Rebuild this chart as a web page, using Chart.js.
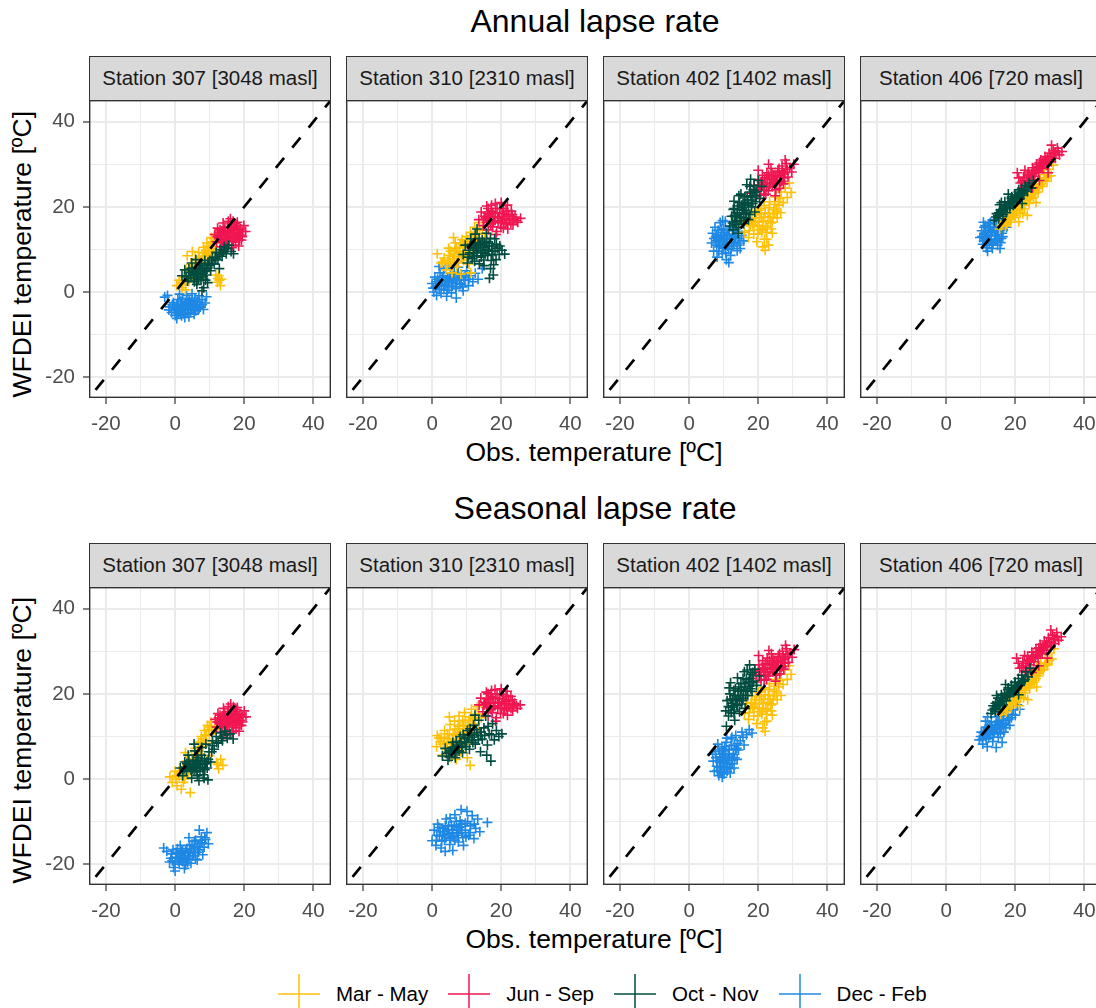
<!DOCTYPE html>
<html>
<head>
<meta charset="utf-8">
<title>Lapse rate</title>
<script src="https://cdn.jsdelivr.net/npm/chart.js@4.4.1/dist/chart.umd.min.js"></script>
<style>
  body { margin: 0; background: #fff; }
  #page { position: relative; width: 1096px; height: 1008px; overflow: hidden; font-family: 'Liberation Sans', Arial, sans-serif; }
  .title { position: absolute; left: 0; width: 1190px; text-align: center; font-size: 32px; line-height: 1; color: #000; white-space: nowrap; }
  .xtitle { position: absolute; left: 0; width: 1188px; text-align: center; font-size: 26.5px; line-height: 1; color: #000; white-space: nowrap; }
  .ytitle { position: absolute; width: 320px; height: 26.5px; text-align: center; font-size: 26.5px; line-height: 1; color: #000; transform: rotate(-90deg); white-space: nowrap; }
  .strip { position: absolute; box-sizing: border-box; background: #D9D9D9; border: 1.3px solid #333; color: #1A1A1A; font-size: 20.5px; text-align: center; white-space: nowrap; }
  canvas { position: absolute; }
  #legend { position: absolute; left: 278px; top: 974px; height: 40px; display: flex; align-items: center; font-size: 20.5px; color: #000; white-space: nowrap; }
  .item { display: flex; align-items: center; margin-right: 20px; }
  .item svg { display: block; margin-right: 16px; }
</style>
</head>
<body>
<div id="page"></div>
<script>
// facets, seasons and axis ticks
var stationNames = ['Station 307 [3048 masl]', 'Station 310 [2310 masl]', 'Station 402 [1402 masl]', 'Station 406 [720 masl]'];
var seasonNames = ['Mar - May', 'Jun - Sep', 'Oct - Nov', 'Dec - Feb'];
var seasonColors = ['#FFC107', '#F01651', '#004D40', '#1E88E5'];
var rowTitles = ['Annual lapse rate', 'Seasonal lapse rate'];
var axisRange = [-24.9, 45.1];
var axisTicks = [-20, -10, 0, 10, 20, 30, 40];
var oneToOne = [-23, 45];

// [obs, WFDEI] pairs, annual lapse rate
var a307mam = [[0.5,1.5],[1.2,2.8],[2,1],[2.5,3.5],[3.5,8.5],[3.2,5],[4,2.5],[4.6,6.5],[5.2,4],[5.8,7.8],[6.3,5.5],[6.8,9.3],[7.2,3.5],[7.6,7],[8.2,10.5],[8.8,8.5],[9.2,11.5],[9.6,6.8],[10,9.7],[10.5,12.8],[11,10.8],[11.4,13.5],[11.8,4],[12.2,2.3],[12.6,3.8],[13.1,1.5],[13.4,3],[10.8,7.5],[3,0.5],[5,9.5],[12,12],[9,4.8],
  [1.8,2.2],[3.8,4],[4.4,3.2],[5.5,5.8],[6,6.8],[6.6,4.6],[7,8],[7.9,6],[8.4,9.2],[9.3,8.6],[9.8,10.8],[10.3,9],[11.2,11.8],[11.6,9.6],[12.4,3.2],[6.2,3],[8.6,7.6],[10.4,11.6],
  [2.2,1.8],[3,2.6],[4.2,4.8],[5.2,5],[6.4,7.4],[7.3,6.2],[8,8.4],[8.9,9.8],[9.6,9.2],[10.6,10.2],[11.1,12.6],[12.8,2.8]];
var a307jjas = [[11.5,13.5],[12,11.8],[12.3,15],[12.8,12.6],[13.2,10.6],[13.5,14.3],[13.9,16.2],[14.2,12],[14.6,13.6],[15,11],[15.3,15.3],[15.7,12.8],[16.1,14.5],[16.4,10.4],[16.8,16.6],[17.1,13.2],[17.5,11.7],[17.8,15],[18.2,13.8],[18.6,12.2],[19,14.8],[19.4,13],[19.9,15.6],[20.4,14.2],[14,9.8],[16,17.2],[13,13.2],[15.5,14],[17.5,16],[18.4,10.8],
  [12.6,14],[13.4,12.4],[13.8,13.8],[14.4,15],[14.8,12.6],[15.2,13.8],[15.6,11.8],[16,13.2],[16.3,15.8],[16.6,12.2],[17,14.4],[17.3,12.6],[17.7,13.8],[18,16.4],[18.8,13.4],[19.6,14.2],[14.6,11],[16.8,11],
  [12.2,13],[13,14.6],[13.6,11.6],[14.2,14.4],[15.1,12.2],[15.8,15],[16.5,13.8],[17.2,15.4],[17.9,12.8],[18.5,14.6],[19.2,12.2],[15.4,16.6]];
var a307on = [[2,3.8],[2.8,5.2],[3.6,2.6],[4.3,4.6],[4.8,6.8],[5.4,3.2],[5.9,5.5],[6.3,1.8],[6.7,4.3],[7.1,6.2],[7.5,3],[7.9,5],[8.3,1],[8.6,7.4],[9,4],[9.4,2.2],[9.8,6.3],[10.3,5],[10.8,8],[11.3,6.6],[11.9,9.3],[12.4,7.5],[13,10],[13.6,8.4],[14.2,10.6],[14.8,9],[15.5,11],[16.2,9.5],[16.9,9],[7.8,0.3],[6,7.6],[12.8,5.5],
  [3.2,3.6],[4,5.4],[4.6,3.8],[5.1,4.8],[5.6,2.4],[6.1,4.9],[6.5,3.6],[6.9,5.4],[7.3,4.2],[7.7,6.6],[8.1,3.6],[8.5,5.6],[8.8,2.8],[9.2,5.4],[10,7.4],[11.6,8.2],[12.9,8.8],[14,9.6],[15.2,10.2],
  [3.9,3.2],[4.9,5.6],[5.5,4.2],[6.2,2.6],[6.8,3],[7.4,5.6],[8,4.4],[8.7,4.8],[9.5,6.8],[10.6,6.6],[11.8,7.8],[13.4,9.2]];
var a307djf = [[-3,-1.2],[-2.2,-0.8],[-1.5,-3.5],[-1,-4.8],[-0.5,-2.5],[0,-5.5],[0.3,-3.8],[0.8,-1.8],[1,-5],[1.3,-0.5],[1.6,-3],[2,-4.3],[2.2,-1.5],[2.6,-5.2],[3,-2.6],[3.3,-0.8],[3.8,-3.9],[4.1,-1.9],[4.5,-4.8],[4.9,-0.4],[5.2,-3],[5.7,-1.4],[6,-4.4],[6.4,-2.3],[6.9,-0.9],[7.3,-3.5],[7.8,-1.8],[8.2,-4.1],[8.7,-2.6],[9.1,-1.1],[0.5,-6.2],[-1.8,-4.2],[2.8,-6],[5.5,-5.2],
  [-0.8,-3],[-0.2,-4.2],[0.6,-2.9],[1.2,-4.1],[1.7,-2.2],[2.4,-3.4],[2.9,-4.4],[3.4,-1.6],[3.6,-5],[4.3,-2.8],[4.8,-3.8],[5,-1.9],[5.9,-3.4],[6.6,-4],[7.1,-2.4],[7.8,-3],[1.9,-5.6],[4,-5.8],
  [-0.3,-3.4],[0.4,-4.8],[1,-3.5],[1.5,-4.6],[2.1,-2.9],[2.7,-4.1],[3.2,-3.2],[3.9,-2.4],[4.6,-3.3],[5.4,-4.2],[6.2,-2.9],[7,-3.9]];

var a310mam = [[1.5,9],[2.6,6.8],[3.5,8],[4,5.2],[4.8,10.3],[5.2,7],[5.8,4.5],[6.2,9],[6.7,11.5],[7,6],[7.5,8.3],[7.9,10.5],[8.3,4.2],[8.7,12.3],[9.1,7.4],[9.5,9.6],[9.9,13],[10.3,11.2],[10.7,6.6],[11.1,14],[11.5,9.4],[11.9,12],[12.3,15.2],[12.7,10.5],[13.2,13.6],[13.6,16.3],[14.1,11.6],[14.6,14.6],[15.2,12.5],[16,13.8],[11.2,4.5],[6.2,12.8],
  [4.4,6.6],[5,8.6],[5.6,6],[6,7.8],[6.6,9.8],[7.2,7.2],[7.7,9.4],[8.1,11.4],[8.6,8],[9.2,10.6],[9.7,12],[10.4,8.6],[10.9,12.8],[11.6,11],[12.2,13.4],[12.9,12],[13.8,14.6],[3,7],
  [4.6,7.4],[5.4,9.6],[6.4,8.4],[7,10.2],[7.4,6.8],[8,9],[8.9,11.2],[9.4,8.6],[10,11.8],[10.8,10.4],[11.4,13.2],[12.5,12.8]];
var a310jjas = [[13.5,17],[14.2,18.8],[14.8,15.6],[15.3,17.8],[15.8,20.2],[16.3,14.6],[16.7,16.8],[17.1,19],[17.5,15.3],[17.9,17.6],[18.3,20.8],[18.7,14.2],[19.1,16.4],[19.5,18.5],[19.9,15.2],[20.3,17.2],[20.7,19.6],[21.1,16],[21.5,18.2],[21.9,14.8],[22.4,17],[22.9,19],[23.4,15.8],[24,17.6],[24.8,16.4],[25.6,17.3],[18.5,13.5],[20,21],[16,18.5],[21.8,20.4],
  [15,17],[15.8,16.4],[16.4,18.2],[17,16],[17.6,18.6],[18.2,16.8],[18.8,19.6],[19.2,17.4],[19.8,16.4],[20.4,18.4],[21,17.2],[21.6,16.4],[22.2,18.2],[22.8,16.2],[23.2,18.2],[24.4,16.8],[20.6,15],[17.2,20.4],
  [15.5,17.4],[16.2,19.6],[16.9,17.6],[17.7,16.6],[18.4,18.6],[19,17.6],[19.6,19.6],[20,16.2],[20.8,17.8],[21.4,19],[22,17.8],[23.6,17]];
var a310on = [[9,8.8],[9.6,11],[10.2,6.8],[10.7,9.8],[11.2,12.5],[11.6,7.8],[12.1,10.4],[12.5,13.6],[12.9,8.5],[13.3,11.3],[13.7,6.6],[14.1,9.4],[14.5,12.2],[14.9,7.5],[15.3,10.5],[15.7,13.8],[16.1,8.6],[16.5,11.4],[16.9,5.5],[17.3,9.6],[17.7,4],[18.1,12.5],[18.5,7.6],[18.9,10.3],[19.4,8.8],[20.2,9.8],[21,8.9],[16.6,3.2],[13,14.8],[17.8,6.4],
  [10.4,8.2],[11,10.8],[11.9,9],[12.4,11.6],[13,9.8],[13.6,12.6],[14.2,8.2],[14.8,10.8],[15.4,9],[15.8,11.8],[16.4,9.8],[16.9,12.6],[17.4,10.8],[18.2,9.6],[19.6,10.8],[17.1,7.4],[15,6.2],[12.3,7.2],
  [10.9,9.2],[11.5,11.2],[12.2,8.4],[12.7,10.2],[13.4,10.4],[14,11],[14.6,9.2],[15.1,11.6],[15.9,10],[16.6,10.8],[17.6,8.8],[18.6,11.2]];
var a310djf = [[0,2],[0.5,0],[0.8,3.5],[1.3,-0.8],[1.8,1.5],[2.3,4.5],[2.6,-0.3],[3,2.6],[3.4,0.6],[3.8,5.6],[4.2,-1],[4.5,3.5],[4.9,1.2],[5.3,6.3],[5.6,-0.2],[6,2.5],[6.4,4.6],[6.8,0.8],[7.2,3],[7.6,5.8],[8,1.8],[8.5,4],[9,0.3],[9.5,2.8],[10,5],[10.5,1.5],[11,3.8],[11.8,2.4],[12.5,4.4],[13.3,3],[14.5,5.5],[2,6],[7,-1.4],
  [1,1.2],[1.6,3],[2.2,0.6],[2.8,1.8],[3.3,3.8],[3.9,1.8],[4.4,0.4],[4.8,2.4],[5.4,4.4],[5.9,1.4],[6.3,3.4],[6.9,2],[7.4,4.2],[8.2,2.8],[8.8,1.2],[9.6,3.8],[10.6,3],[0.3,0.9],
  [1.2,2.4],[2,2.4],[2.9,3.4],[3.6,1.4],[4.2,2.8],[5,3.2],[5.6,2.2],[6.6,3],[7,1.2],[7.8,3.4],[8.4,2],[9.2,3.4]];

var a402mam = [[16,14],[16.6,16.5],[17.2,12.8],[17.7,15.6],[18.2,18.4],[18.7,13.6],[19.2,16.6],[19.6,11.8],[20,19.2],[20.5,14.6],[20.9,17.4],[21.3,10.6],[21.7,20.3],[22.1,15.5],[22.5,12.4],[22.9,18.4],[23.3,21.2],[23.7,16.2],[24.1,13.8],[24.5,19.4],[25,22.3],[25.5,17.4],[26,20.4],[26.6,23.5],[27.2,21],[27.8,24.4],[28.4,22.2],[29,25.6],[29.5,23.4],[22,9.8],[23,11],[26.5,18.6],
  [17.4,14.4],[18,16.8],[18.8,15.4],[19.4,18.2],[19.9,13.6],[20.3,16.4],[20.8,19.6],[21.2,15],[21.6,17.6],[22.3,14],[22.8,16.8],[23.2,19.8],[23.8,14.8],[24.3,17.6],[24.8,20.6],[25.3,19],[26.3,22],[21.8,12.4],
  [18.4,15.8],[19,17.4],[19.8,15.6],[20.4,18.2],[21,14],[21.4,16.6],[22,18.6],[22.6,15.2],[23.4,17.6],[24,16.4],[24.7,18.4],[25.8,21.2]];
var a402jjas = [[18,23.2],[18.8,25],[19.5,22.4],[20.1,26.4],[20.7,24],[21.2,27.4],[21.6,22.8],[22,25.6],[22.5,28],[22.9,23.8],[23.3,26.6],[23.7,29],[24.1,24.8],[24.5,27.4],[24.9,22.6],[25.3,25.8],[25.7,28.4],[26.1,24.3],[26.5,27],[26.9,29.6],[27.3,25.4],[27.7,28],[28.1,30.2],[28.6,27],[29.1,29.2],[29.7,28.2],[30.3,30],[27.8,31],[23,30],[20,28.6],
  [19.2,24],[20,25.2],[20.6,22.8],[21.4,25.2],[21.9,26.8],[22.4,24.6],[23,27.4],[23.5,25.4],[24,28],[24.6,26.2],[25.1,24],[25.5,27.2],[26,29],[26.4,25.8],[27,28.4],[27.6,26.8],[28.4,28.8],[22.2,23],
  [20.4,24.6],[21,25.8],[21.8,24],[22.6,26.4],[23.2,24.8],[23.8,26.6],[24.4,25.6],[25,27],[25.6,26.2],[26.2,27.4],[26.8,26],[27.4,27.6]];
var a402on = [[11.8,15.5],[12.3,17.8],[12.7,14.6],[13.1,19.6],[13.5,16.5],[13.9,18.6],[14.3,15.2],[14.6,21],[15,17.6],[15.4,19.8],[15.8,16.1],[16.1,22.4],[16.5,18.8],[16.9,21],[17.2,17],[17.6,23.5],[18,20],[18.4,22.3],[18.8,25],[19.2,21.2],[19.6,23.6],[20,26.2],[20.4,22],[13,21.3],[15,23],[16.7,25.2],[17.8,26.5],[14.2,13.8],[19,18.8],[21,24.8],
  [12.6,16.2],[13.2,18],[13.8,16.8],[14.1,20.2],[14.6,18.2],[15.2,16.8],[15.6,21],[16,19.2],[16.4,17.4],[16.8,22.4],[17.2,20.4],[17.6,18.2],[18.2,21.6],[18.6,24],[19.4,22.6],[14.4,22.6],[12.8,19.4],[17.6,24.8],
  [13.4,17.6],[14,19.4],[14.8,17.4],[15.2,20.4],[15.8,18.6],[16.2,20.8],[16.6,18.4],[17,21.6],[17.8,22.6],[18.4,20.8],[19,23.4],[13.6,15.8]];
var a402djf = [[6.5,11.5],[6.8,13.8],[7.1,9.6],[7.5,15.2],[7.8,12],[8.1,8.2],[8.4,14.5],[8.7,10.6],[9,16.3],[9.3,12.8],[9.6,9],[9.9,14],[10.2,11.2],[10.5,16.6],[10.8,7.6],[11.1,13.2],[11.4,10],[11.7,15.3],[12,8.6],[12.3,12.3],[12.6,14.7],[12.9,10.8],[13.2,16],[13.5,12.9],[13.9,9.7],[14.3,14.2],[14.7,11.5],[15.2,13.3],[15.8,12],[10,12.5],[8,11],[11.5,6.9],
  [7.2,12.6],[8,13.4],[8.6,9.6],[9,11.8],[9.4,14.8],[9.8,10.2],[10.2,13.4],[10.6,9.2],[11,11.6],[11.4,14.4],[11.8,12.4],[12.2,10.2],[12.6,13.4],[13,11.6],[13.6,14.8],[14.2,12.6],[14.8,10.2],[9.7,16.8],
  [7.8,13],[8.4,12.2],[9,13],[9.6,12],[10,14.8],[10.4,10.6],[10.8,12.6],[11.2,10.8],[11.6,13.6],[12.4,11.4],[13.2,13],[14,11]];

var a406mam = [[15.5,14.8],[16.4,16.2],[17.2,15.5],[17.9,17.6],[18.6,16.4],[19.3,18.8],[20,17.5],[20.7,20],[21.4,18.6],[22,21.6],[22.7,19.5],[23.3,22.8],[24,20.8],[24.6,23.8],[25.3,22.2],[25.9,25],[26.6,23.5],[27.2,26.4],[27.9,24.8],[28.5,27.6],[29.2,26],[29.8,28.8],[30.4,27.3],[23.5,18],[26,21],[21,16.5],[31,29.8],
  [16,15.6],[17,16.6],[18.2,17],[19,17.8],[19.8,19.2],[20.4,18.6],[21.2,19.8],[21.8,20.4],[22.4,21],[23,21.6],[23.8,22.4],[24.4,22],[25,23.6],[25.6,24],[26.3,24.4],[27.5,25.4],[28.8,26.8],[22.2,18.4],
  [17.6,16],[18.8,17.2],[19.6,18],[20.6,19.2],[21.6,19.8],[22.6,20.4],[23.6,21.6],[24.8,22.8],[25.8,23.2],[27,24.8],[28.2,26.2],[29.6,27.2]];
var a406jjas = [[20.6,28],[21.5,25.6],[22.4,27],[23.1,25],[23.8,28.2],[24.4,26.4],[25,29.2],[25.6,27.2],[26.2,30],[26.8,28],[27.4,31],[28,29],[28.6,31.8],[29.2,29.8],[29.8,32.6],[30.4,30.6],[31,33.2],[31.6,31.4],[32.2,33.8],[32.8,32.2],[27,26.2],[29.5,28],[25,24.5],[30.5,34.5],[33.5,33],
  [21,26.8],[22,25.8],[22.8,28.6],[23.4,26.8],[24,27.4],[24.8,27.8],[25.4,28.6],[26,28.4],[26.6,29.4],[27.2,29.6],[27.8,30.4],[28.3,30.4],[28.9,31],[29.6,31],[30.1,31.8],[31.2,32.4],[32.4,33],[23.6,24.6],
  [22.6,26.2],[23.6,27.6],[24.6,27],[25.3,28],[26.4,28.8],[27,30.4],[27.6,29.2],[28.6,30.6],[29.3,31.6],[30.6,31.8],[31.6,32.8],[24.2,25.8]];
var a406on = [[14,16.8],[14.6,18.4],[15.2,17.2],[15.8,19.3],[16.3,17.8],[16.9,20.2],[17.4,18.6],[17.9,21],[18.4,19.6],[18.9,22],[19.4,20.4],[19.9,22.8],[20.4,21.3],[20.9,23.5],[21.4,22],[21.9,24.3],[22.4,22.8],[22.9,25],[23.5,23.6],[24,25.6],[24.6,24.4],[25.2,26.2],[15.5,20.5],[18,23],[22,20.8],
  [14.4,17.6],[15,18],[15.6,18.4],[16.1,18.8],[16.6,19.2],[17.1,19.6],[17.7,19.8],[18.2,20.6],[18.7,21],[19.2,21.4],[19.7,21.8],[20.2,22.2],[20.7,22.4],[21.2,23],[21.7,23.2],[22.7,24],[23.8,24.8],[16,21],
  [15.3,18.6],[16.5,18.2],[17.5,20.2],[18.5,20.2],[19.5,21],[20.5,21.8],[21.5,22.6],[22.2,23.4],[23.2,24.2],[17,21.2],[19,22.4],[21,24]];
var a406djf = [[9.8,12.8],[10.3,14.4],[10.6,11.2],[11,13.6],[11.3,15.6],[11.6,10.4],[11.9,12.4],[12.2,14.8],[12.5,11.6],[12.8,16.3],[13.1,13.2],[13.4,10.2],[13.7,15.2],[14,12],[14.3,14],[14.6,16.8],[14.9,11],[15.2,13.5],[15.6,15.6],[16,12.6],[16.5,14.6],[17,16.5],[12,9.6],[15.6,10.2],[17.5,15.2],[10.8,16.4],
  [10.4,13],[10.9,12],[11.4,14],[11.8,11.4],[12.3,13.4],[12.6,15.4],[13,12.2],[13.3,14.2],[13.6,11.4],[14.1,13.2],[14.5,15.2],[14.8,12.4],[15.3,14.6],[15.8,11.6],[16.2,13.8],[16.8,15.4],[11,15.2],[13.8,17],
  [11.2,12.6],[11.7,13],[12.4,12.4],[12.9,14.4],[13.2,11],[13.9,14.6],[14.4,12.2],[14.6,14.2],[15.4,12.6],[15.9,14.8],[16.4,13],[12.2,16]];

// [obs, WFDEI] pairs, seasonal lapse rate
var s307mam = [[-1.5,0.5],[-0.8,-0.8],[0,1.8],[0.6,-1.6],[1.2,0.6],[1.8,-2.4],[2.3,2.8],[2.8,0],[3.4,4.2],[3.9,1.4],[4.4,-3.2],[4.8,5.6],[5.3,3],[5.8,7.2],[6.2,4.4],[6.7,8.6],[7.1,6],[7.6,10],[8,7.6],[8.5,11.4],[8.9,9],[9.4,12.6],[9.9,10.4],[10.4,13.4],[10.9,8.4],[11.4,11.6],[12,3.8],[12.6,2.4],[13.2,4.6],[13.8,3.2],[3,6.2],[10,5.4],
  [0.4,0.8],[1.6,1.8],[2.4,-0.8],[3.2,2.6],[3.6,1.2],[4.2,3.6],[4.6,2],[5.1,4.6],[5.6,5.6],[6,6.6],[6.5,5.8],[7,7.4],[7.4,8.6],[8.2,9.4],[8.7,10.4],[9.6,11.6],[10.6,11.6],[12.3,3.4],
  [0.2,0],[1,1.4],[2,0.6],[2.8,2],[3.8,2.4],[4.8,3.6],[5.4,4.6],[6.2,5.2],[6.9,6.6],[7.8,8.2],[9,10.2],[10,12.2]];
var s307jjas = [[11.6,14],[12,12.2],[12.4,15.4],[12.9,13],[13.3,11],[13.6,14.8],[14,16.6],[14.3,12.4],[14.7,14],[15.1,11.4],[15.4,15.8],[15.8,13.2],[16.2,15],[16.5,10.8],[16.9,17],[17.2,13.6],[17.6,12],[17.9,15.4],[18.3,14.2],[18.7,12.6],[19.1,15.2],[19.5,13.4],[20,16],[20.5,14.6],[14.1,10.2],[16.1,17.6],[13.1,13.6],[15.6,14.4],[17.6,16.4],[18.5,11.2],
  [12.6,14.4],[13.4,12.8],[13.8,14.2],[14.4,15.4],[14.8,13],[15.2,14.2],[15.6,12.2],[16,13.6],[16.3,16.2],[16.6,12.6],[17,14.8],[17.3,13],[17.7,14.2],[18,16.8],[18.8,13.8],[19.6,14.6],[14.6,11.4],[16.8,11.4],
  [12.2,13.4],[13,15],[13.6,12],[14.2,14.8],[15.1,12.6],[15.8,15.4],[16.5,14.2],[17.2,15.8],[17.9,13.2],[18.5,15],[19.2,12.6],[15.4,17]];
var s307on = [[1.5,2.6],[2.2,0.8],[2.8,4],[3.3,1.8],[3.8,5.6],[4.3,2.8],[4.8,0.2],[5.2,4.4],[5.7,6.6],[6.1,2],[6.5,5],[6.9,-0.4],[7.3,3.4],[7.7,7.4],[8.1,1],[8.5,4.8],[8.9,8.2],[9.3,2.6],[9.8,6.4],[10.3,4],[10.8,9],[11.3,7],[11.9,10],[12.5,8.4],[13.1,10.8],[13.7,9],[14.4,11.2],[15.1,9.6],[15.9,10.6],[16.8,9.4],[5.5,8.2],[9.5,-0.2],
  [2.6,2.4],[3.4,3.6],[4,4.2],[4.6,2.2],[5,3.4],[5.5,1.8],[6,3.6],[6.4,0.8],[6.8,4.2],[7.2,1.8],[7.6,5.6],[8,2.6],[8.4,0.2],[8.8,3.6],[9.6,4.6],[10.6,6.4],[12,8.6],[13.4,9.6],[14.8,10.4],
  [3,2.8],[3.8,3],[4.4,3.4],[5,2.4],[5.6,3],[6.2,4.4],[6.6,2.6],[7.2,2.8],[7.8,4.2],[8.6,2.2],[9.2,4],[10.8,7.8]];
var s307djf = [[-3.3,-16.2],[-2.4,-17],[-1.6,-19.5],[-1,-17.6],[-0.4,-20.8],[0.2,-18.4],[0.7,-16.4],[1.2,-20],[1.7,-18.8],[2.2,-16.8],[2.7,-21],[3.2,-19],[3.7,-17.3],[4.2,-15.6],[4.6,-19.8],[5.1,-18],[5.6,-16],[6,-14.4],[6.4,-19],[6.8,-17.2],[7.2,-15.2],[7.6,-13.6],[8,-17.8],[8.4,-16],[8.8,-14.2],[9.2,-12.6],[9.6,-15.2],[4,-13.8],[1.5,-15.6],[7,-12],[0,-21.6],
  [-1.2,-18.6],[-0.6,-16.6],[0,-19.6],[0.6,-17.6],[1.2,-18.6],[1.8,-17],[2.2,-19.4],[2.8,-18],[3.4,-16.4],[3.8,-18.6],[4.4,-17],[4.9,-15.4],[5.4,-17.4],[5.9,-18.8],[6.5,-15.8],[7.1,-16.6],[7.8,-15],[8.6,-13.8],[3,-20.2],[5.6,-14.6],
  [-0.8,-19.2],[0.3,-17.2],[0.9,-19.2],[1.6,-17.8],[2.4,-18.4],[3,-17],[3.6,-19.6],[4.2,-18.2],[4.8,-16.4],[5.8,-17.2],[6.6,-16.6],[7.6,-14.4]];

var s310mam = [[1.5,10.2],[1.3,7.6],[2.4,8.8],[3,5.6],[3.6,11.4],[4.1,7],[4.7,9.4],[5.2,12.8],[5.6,5],[6.1,10.6],[6.5,13.6],[6.9,8],[7.3,11.8],[7.8,14.8],[8.2,6.4],[8.6,9.6],[9,12.6],[9.4,15.6],[9.8,8.2],[10.2,11],[10.6,13.8],[11,3.2],[11.4,16.4],[11.8,10],[12.2,13],[12.6,15.2],[13.1,17],[13.6,12],[14.2,14.4],[7,4.6],[5,14.6],[10.2,5],
  [2,9.6],[3.2,8.2],[4.4,8.4],[5,10.6],[5.6,7.6],[6,9.4],[6.6,11.6],[7.2,9.2],[7.6,10.6],[8,12.4],[8.4,8.4],[9,11],[9.6,13.4],[10.4,12.2],[11,14.6],[11.6,12.6],[12.4,14.2],[13.4,15.2],
  [2.6,9.8],[3.6,9.6],[4.4,10.6],[5.4,8.6],[6.2,8.2],[6.8,10.2],[7.6,12.4],[8.2,10.4],[8.8,13.8],[9.8,11.8],[10.6,10.6],[11.8,14]];
var s310jjas = [[13.6,17.4],[14.1,19],[14.7,15.8],[15.2,18],[15.7,20.4],[16.2,14.8],[16.6,17],[17,19.4],[17.4,15.6],[17.8,17.8],[18.2,21],[18.6,14.4],[19,16.6],[19.4,18.8],[19.8,15.4],[20.2,17.6],[20.6,19.8],[21,16.2],[21.4,18.4],[21.8,15],[22.3,17.2],[22.8,19.4],[23.3,16],[23.9,17.8],[24.7,16.6],[25.5,17.4],[18.4,13.6],[20,21.2],[15.9,18.8],[21.7,20.6],
  [15,17.4],[15.8,16.8],[16.4,18.6],[17,16.4],[17.6,19],[18.2,17.2],[18.8,20],[19.2,17.8],[19.8,16.8],[20.4,18.8],[21,17.6],[21.6,16.8],[22.2,18.6],[22.8,16.6],[23.2,18.6],[24.4,17.2],[20.6,15.4],[17.2,20.8],
  [15.5,17.8],[16.2,20],[16.9,18],[17.7,17],[18.4,19],[19,18],[19.6,20],[20,16.6],[20.8,18.2],[21.4,19.4],[22,18.2],[23.6,17.4]];
var s310on = [[3,5.4],[3.8,7.2],[4.6,4.4],[5.3,6.6],[6,8.6],[6.7,5],[7.4,7.6],[8.1,10],[8.8,6.2],[9.5,8.8],[10.2,11.4],[10.8,7],[11.4,9.8],[12,12.6],[12.5,8.2],[13,10.8],[13.5,13.8],[14,6.4],[14.5,9.4],[15,12],[15.5,14.8],[16,8],[16.5,10.6],[17,4.2],[17.5,13],[18,9.2],[18.6,11.4],[19.3,10],[20.2,10.6],[15.8,5.6],[12.4,15],
  [4.2,6],[5,5.2],[5.8,7.4],[6.4,6.2],[7,8.8],[7.8,6.6],[8.4,8.4],[9,10.4],[9.8,7.6],[10.4,9.8],[11,11.8],[11.8,8.6],[12.2,10.4],[13.4,9.2],[14.2,11],[15.2,10.2],[16.2,12.4],[17.2,10.4],
  [4.8,6.2],[5.6,6.2],[6.2,7.4],[7.2,6.4],[7.8,8],[8.6,7.4],[9.4,9.6],[10,8.6],[10.8,10.2],[11.6,9.2],[12.8,11.6],[14,10.2]];
var s310djf = [[0,-14.5],[0.6,-12],[1.1,-15.6],[1.6,-10.6],[2.1,-13.4],[2.6,-16.2],[3.1,-11.6],[3.6,-14.4],[4.1,-9.4],[4.6,-12.8],[5.1,-15.4],[5.6,-10.8],[6.1,-13.6],[6.6,-8.4],[7.1,-11.8],[7.6,-14.8],[8.1,-9.8],[8.6,-12.6],[9.1,-15.6],[9.6,-10.4],[10.1,-7.6],[10.6,-13.2],[11.1,-11],[11.6,-8.6],[12.1,-14],[12.6,-11.6],[13.2,-9.4],[13.8,-12.4],[16,-10.2],[3.8,-17],[8.4,-7.2],[6,-16.8],
  [1.4,-13.2],[2,-11.4],[2.8,-14.6],[3.4,-12.4],[4,-13.8],[4.8,-11],[5.4,-14],[6,-12],[6.6,-14.4],[7,-10],[7.6,-12.8],[8.2,-11.2],[8.9,-13.8],[9.6,-12],[10.3,-10],[11,-12.6],[12.2,-10.6],[5.2,-9.2],
  [1.2,-14.4],[2.4,-12.4],[3,-13.2],[3.8,-11],[4.4,-12],[5,-13],[5.8,-12.6],[6.4,-11],[7.2,-13.2],[7.8,-11.4],[8.6,-10.6],[9.8,-13.6]];

var s402mam = [[16,15.4],[16.6,17.8],[17.2,14],[17.7,16.8],[18.2,19.6],[18.7,14.8],[19.2,17.8],[19.6,13],[20,20.4],[20.5,15.8],[20.9,18.6],[21.3,12],[21.7,21.4],[22.1,16.6],[22.5,13.6],[22.9,19.6],[23.3,22.4],[23.7,17.4],[24.1,15],[24.5,20.6],[25,23.4],[25.5,18.6],[26,21.6],[26.6,24.6],[27.2,22.2],[27.8,25.6],[28.4,23.4],[29,26.6],[29.5,24.6],[22,11.2],[26.6,19.6],[24,26],
  [17.4,15.6],[18,18],[18.8,16.6],[19.4,19.4],[19.9,14.8],[20.3,17.6],[20.8,20.8],[21.2,16.2],[21.6,18.8],[22.3,15.2],[22.8,18],[23.2,21],[23.8,16],[24.3,18.8],[24.8,21.8],[25.3,20.2],[26.3,23.2],[21.8,13.4],
  [18.4,17],[19,18.6],[19.8,16.6],[20.4,19.4],[21,15.2],[21.4,17.8],[22,19.8],[22.6,16.4],[23.4,18.8],[24,17.6],[24.7,19.6],[25.8,22.4]];
var s402jjas = [[18.2,23.6],[19,25.4],[19.6,22.8],[20.2,26.8],[20.8,24.4],[21.3,27.8],[21.7,23.2],[22.1,26],[22.6,28.4],[23,24.2],[23.4,27],[23.8,29.4],[24.2,25.2],[24.6,27.8],[25,23],[25.4,26.2],[25.8,28.8],[26.2,24.7],[26.6,27.4],[27,30],[27.4,25.8],[27.8,28.4],[28.2,30.6],[28.7,27.4],[29.2,29.6],[29.8,28.6],[30.4,30.4],[27.9,31.4],[23.1,30.2],[20.1,29],
  [19.4,24.4],[20.2,25.6],[20.8,23.2],[21.6,25.6],[22.1,27.2],[22.6,25],[23.2,27.8],[23.7,25.8],[24.2,28.4],[24.8,26.6],[25.3,24.4],[25.7,27.6],[26.2,29.4],[26.6,26.2],[27.2,28.8],[27.8,27.2],[28.6,29.2],[22.4,23.4],
  [20.6,25],[21.2,26.2],[22,24.4],[22.8,26.8],[23.4,25.2],[24,27],[24.6,26],[25.2,27.4],[25.8,26.6],[26.4,27.8],[27,26.4],[27.6,28]];
var s402on = [[10.6,16],[11,18.4],[11.4,14.8],[11.8,20],[12.2,16.8],[12.6,18.6],[13,15.4],[13.4,21.2],[13.8,17.4],[14.2,19.6],[14.6,15.8],[15,22.4],[15.4,18.4],[15.8,20.6],[16.2,16.6],[16.6,23.4],[17,19.6],[17.4,21.8],[17.8,24.6],[18.2,20.6],[18.6,23],[19,25.8],[19.5,22],[12,22.6],[14,23.8],[16,25.2],[17.5,26.8],[13.2,13.8],[20.3,24.2],[10.8,12.4],
  [11.4,17],[12,18.8],[12.6,17.2],[12.9,20.8],[13.4,18.8],[14,17.2],[14.4,21.6],[14.8,19.6],[15.2,17.6],[15.6,23.6],[16,21.6],[16.4,19.6],[17.2,22.8],[17.8,21.2],[18.4,25],[13,16.2],[11.6,21.4],[16.8,25.6],
  [12.4,17.8],[13,19.6],[13.8,18.4],[14.2,20.6],[14.6,18.6],[15.2,21],[15.6,19],[16.2,22.4],[16.8,20.8],[17.4,23.6],[18.2,22.6],[12.2,15.6]];
var s402djf = [[7,4.2],[7.3,1.8],[7.6,6.4],[8,3],[8.3,8.2],[8.6,0.8],[8.9,5.2],[9.2,2.6],[9.5,7.2],[9.8,4],[10.1,1.2],[10.4,6],[10.7,8.6],[11,2.8],[11.3,4.8],[11.6,7],[11.9,1.4],[12.2,9.4],[12.5,3.6],[12.8,5.8],[13.1,8],[13.5,10.2],[13.9,4.6],[14.3,6.8],[14.8,9],[15.3,11],[15.9,8],[16.6,10.4],[17.4,11.6],[18.2,10.8],[9.6,0.4],[6.8,5.8],
  [7.8,5],[8.2,2],[8.6,6.8],[9,3.8],[9.3,1.6],[9.6,5.8],[10,3],[10.3,7.6],[10.6,4.4],[11,1.8],[11.4,6],[11.8,3.4],[12.2,7.8],[12.6,5],[13,2.6],[13.4,6.8],[14,8.4],[12.4,9.8],[10.9,9.6],[15.6,9.8],
  [8.2,4.2],[8.8,2.8],[9.2,4.6],[9.9,6.6],[10.2,2.2],[10.5,5.2],[11.1,3.6],[11.6,5.4],[12,2.4],[12.4,4.4],[13.2,5],[13.8,7.2]];

var s406mam = [[15.8,15.2],[16.6,16.8],[17.4,15.8],[18.1,18.2],[18.8,16.8],[19.5,19.4],[20.2,18],[20.9,20.8],[21.6,19.2],[22.2,22.2],[22.9,20.2],[23.5,23.4],[24.2,21.4],[24.8,24.4],[25.5,22.8],[26.1,25.8],[26.8,24.2],[27.4,27.2],[28.1,25.6],[28.7,28.4],[29.4,26.8],[30,29.6],[30.6,28.2],[23.6,18.6],[26.2,21.6],[21.2,17.2],[31.2,30.6],
  [16.2,16],[17.1,16.8],[18.4,17.4],[19.1,18.2],[19.9,19.4],[20.6,19],[21.3,20.2],[21.9,20.8],[22.6,21.4],[23.2,22],[24,22.8],[24.6,22.4],[25.2,24],[25.8,24.4],[26.5,24.8],[27.7,25.8],[29,27.2],[22.4,19],
  [17.8,16.4],[19,17.6],[19.8,18.4],[20.8,19.6],[21.8,20.2],[22.8,20.8],[23.8,22],[25,23.2],[26,23.6],[27.2,25.2],[28.4,26.6],[29.8,27.8]];
var s406jjas = [[20.4,28.4],[21.3,26],[22.2,27.6],[22.9,25.4],[23.6,28.8],[24.2,26.8],[24.8,29.8],[25.4,27.6],[26,30.6],[26.6,28.4],[27.2,31.6],[27.8,29.4],[28.4,32.4],[29,30.2],[29.6,33.2],[30.2,31],[30.8,33.8],[31.4,31.8],[32,34.4],[32.6,32.6],[26.8,26.6],[29.3,28.4],[24.8,25],[30.3,35],[33.3,33.4],
  [20.9,27.2],[21.9,26.2],[22.7,29],[23.3,27.2],[23.9,27.8],[24.6,28.2],[25.2,29],[25.8,28.8],[26.4,29.8],[27,30],[27.6,30.8],[28.1,30.8],[28.7,31.4],[29.4,31.4],[29.9,32.2],[31,32.8],[32.2,33.4],[23.4,25],
  [22.4,26.6],[23.4,28],[24.4,27.4],[25.1,28.4],[26.2,29.2],[26.8,30.8],[27.4,29.6],[28.4,31],[29.1,32],[30.4,32.2],[31.4,33.2],[24,26.2]];
var s406on = [[13,15.4],[13.6,17.2],[14.2,15.8],[14.8,18],[15.3,16.4],[15.9,19],[16.4,17.4],[16.9,20],[17.4,18.4],[17.9,21],[18.4,19.4],[18.9,22],[19.4,20.4],[19.9,22.8],[20.4,21.2],[20.9,23.6],[21.4,22],[21.9,24.4],[22.5,23],[23.1,25.2],[23.7,24],[24.3,26],[14.6,19.6],[17.2,22.2],[21,19.8],
  [13.4,16.2],[14,16.6],[14.6,17],[15.1,17.4],[15.6,17.8],[16.1,18.2],[16.7,18.4],[17.2,19.2],[17.7,19.6],[18.2,20],[18.7,20.4],[19.2,20.8],[19.7,21],[20.2,21.6],[20.7,21.8],[21.7,22.6],[22.8,23.4],[15,19],
  [14.3,17.8],[15.5,17.6],[16.4,19.2],[17.4,19.6],[18.4,20.2],[19.4,21],[20.4,21.4],[21.2,22.2],[22.2,23],[16,19.8],[18,21.4],[20,22.6]];
var s406djf = [[9.6,9.2],[10.2,11],[10.6,8.2],[11,10.2],[11.5,12.2],[11.9,7.6],[12.3,9.6],[12.7,11.6],[13.1,13.4],[13.5,8.8],[13.9,10.8],[14.3,12.8],[14.7,14.6],[15.1,9.8],[15.5,11.8],[15.9,13.8],[16.3,15.6],[16.7,11],[17.1,13],[17.5,14.8],[17.9,16.6],[18.4,12.6],[18.9,14.4],[19.4,16.2],[20,15],[20.6,17.4],[21.3,16.4],[14.5,7.4],[16.2,8.6],[12,14.6],
  [10,10],[10.5,9.4],[11.2,11.2],[11.6,9.4],[12.1,10.6],[12.5,12.6],[12.9,10.4],[13.3,12.2],[13.7,9.8],[14.1,11.6],[14.5,13.4],[14.9,11],[15.3,12.8],[15.7,10.6],[16.1,12.4],[16.6,14.2],[17.3,12],[18.1,14],[19.1,15.2],[11.4,13.6],
  [10.8,10.8],[11.4,10],[12,12],[12.7,11],[13,12.6],[13.6,11.2],[14.2,12.4],[14.8,12.2],[15.2,13.6],[15.8,13],[16.5,12.8],[17.6,13.8]];

var annualPanels = [
  [a307mam, a307jjas, a307on, a307djf],
  [a310mam, a310jjas, a310on, a310djf],
  [a402mam, a402jjas, a402on, a402djf],
  [a406mam, a406jjas, a406on, a406djf]
];
var seasonalPanels = [
  [s307mam, s307jjas, s307on, s307djf],
  [s310mam, s310jjas, s310on, s310djf],
  [s402mam, s402jjas, s402on, s402djf],
  [s406mam, s406jjas, s406on, s406djf]
];

// layout
var FONT = "'Liberation Sans', Arial, sans-serif";
var panelLeft = [89, 346, 603, 860];
var panelW = 242, panelH = 298;
var stripH = 44;
var rowTop = [100, 587];     // top of plotting area for each row
var yAxisW = 60, xAxisH = 42;
// drawing order: line on top, then Oct-Nov, Jun-Sep, Mar-May, Dec-Feb underneath
var seasonOrder = [3, 2, 1, 4];

var page = document.getElementById('page');

function addDiv(cls, text, css) {
  var d = document.createElement('div');
  d.className = cls;
  d.textContent = text;
  for (var k in css) d.style[k] = css[k];
  page.appendChild(d);
  return d;
}

var panelFrame = {
  id: 'panelFrame',
  afterDraw: function (chart) {
    var a = chart.chartArea, ctx = chart.ctx;
    ctx.save();
    ctx.strokeStyle = '#333333';
    ctx.lineWidth = 1.4;
    ctx.strokeRect(a.left + 0.7, a.top + 0.7, a.right - a.left - 1.4, a.bottom - a.top - 1.4);
    ctx.restore();
  }
};

function isMajor(ctx) {
  return ctx.tick && ctx.tick.value % 20 === 0;
}

function axisOptions(isX, showLabels) {
  return {
    type: 'linear',
    min: axisRange[0],
    max: axisRange[1],
    afterBuildTicks: function (s) {
      s.ticks = axisTicks.map(function (v) { return { value: v }; });
    },
    afterFit: function (s) {
      if (isX) s.height = xAxisH; else s.width = showLabels ? yAxisW : 0;
      // keep the plotting area at its full size
      s.paddingTop = s.paddingBottom = s.paddingLeft = s.paddingRight = 0;
    },
    border: { display: false },
    grid: {
      color: '#EBEBEB',
      lineWidth: function (c) { return isMajor(c) ? 2 : 1; },
      drawTicks: showLabels,
      tickLength: 6,
      tickWidth: 1.2,
      tickColor: function (c) { return isMajor(c) ? '#333333' : 'rgba(0,0,0,0)'; }
    },
    ticks: {
      display: showLabels,
      autoSkip: false,
      maxRotation: 0,
      padding: 8,
      color: '#4D4D4D',
      font: { family: FONT, size: 20.5 },
      callback: function (v) { return v % 20 === 0 ? String(v) : ''; }
    }
  };
}

function drawPanel(row, col, sets) {
  var left = panelLeft[col], top = rowTop[row];
  addDiv('strip', stationNames[col], {
    left: left + 'px', top: (top - stripH) + 'px', width: panelW + 'px', height: (stripH + 1) + 'px',
    lineHeight: (stripH - 3) + 'px'
  });

  var canvas = document.createElement('canvas');
  var w = panelW + (col === 0 ? yAxisW : 0);
  var h = panelH + xAxisH;
  canvas.width = w; canvas.height = h;
  canvas.style.left = (left - (col === 0 ? yAxisW : 0)) + 'px';
  canvas.style.top = top + 'px';
  canvas.style.width = w + 'px'; canvas.style.height = h + 'px';
  page.appendChild(canvas);

  var datasets = [{
    type: 'line',
    data: oneToOne.map(function (v) { return { x: v, y: v }; }),
    borderColor: '#000000',
    borderWidth: 2.7,
    borderDash: [13, 13],
    pointRadius: 0,
    fill: false,
    clip: 0,
    order: 0
  }];
  seasonNames.forEach(function (name, i) {
    datasets.push({
      label: name,
      data: sets[i].map(function (p) { return { x: p[0], y: p[1] }; }),
      pointStyle: 'cross',
      pointRadius: 5,
      pointBorderWidth: 1.6,
      borderColor: seasonColors[i],
      pointBorderColor: seasonColors[i],
      backgroundColor: seasonColors[i],
      order: seasonOrder[i]
    });
  });

  new Chart(canvas, {
    type: 'scatter',
    data: { datasets: datasets },
    options: {
      responsive: false,
      animation: false,
      devicePixelRatio: 1,
      layout: { padding: 0, autoPadding: false },
      plugins: { legend: { display: false }, tooltip: { enabled: false } },
      scales: {
        x: axisOptions(true, true),
        y: axisOptions(false, col === 0)
      }
    },
    plugins: [panelFrame]
  });
}

// titles
addDiv('title', rowTitles[0], { top: '5px' });
addDiv('title', rowTitles[1], { top: '492px' });
addDiv('xtitle', 'Obs. temperature [ºC]', { top: '439px' });
addDiv('xtitle', 'Obs. temperature [ºC]', { top: '926px' });
[254, 740].forEach(function (cy) {
  addDiv('ytitle', 'WFDEI temperature [ºC]', { left: (21.5 - 160) + 'px', top: (cy - 13.25) + 'px' });
});

for (var c = 0; c < 4; c++) {
  drawPanel(0, c, annualPanels[c]);
  drawPanel(1, c, seasonalPanels[c]);
}

// legend
var legend = document.createElement('div');
legend.id = 'legend';
seasonNames.forEach(function (name, i) {
  var item = document.createElement('div');
  item.className = 'item';
  item.innerHTML = '<svg width="42" height="40"><line x1="0" y1="20" x2="42" y2="20" stroke="' + seasonColors[i] +
    '" stroke-width="1.5"/><line x1="21" y1="0" x2="21" y2="40" stroke="' + seasonColors[i] + '" stroke-width="1.5"/></svg>';
  var label = document.createElement('span');
  label.textContent = name;
  item.appendChild(label);
  legend.appendChild(item);
});
page.appendChild(legend);
</script>
</body>
</html>
